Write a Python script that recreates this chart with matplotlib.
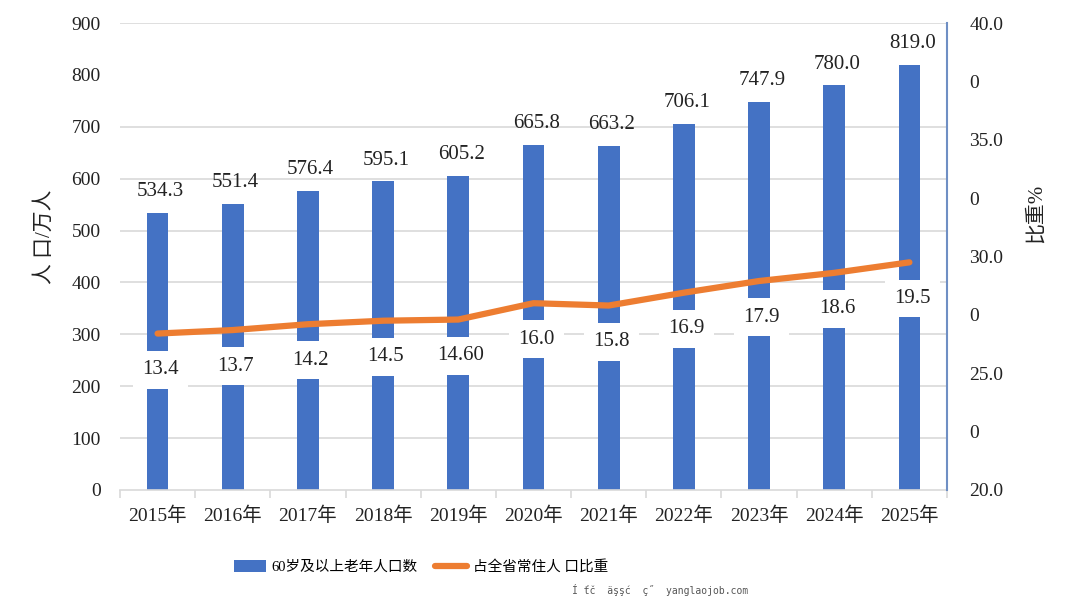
import matplotlib
matplotlib.use("Agg")
import matplotlib.pyplot as plt
from matplotlib.patches import Patch
from matplotlib.lines import Line2D

plt.rcParams['font.family'] = ['Liberation Serif', 'Noto Sans CJK SC', 'DejaVu Sans']

# data
years = ['2015年', '2016年', '2017年', '2018年', '2019年', '2020年',
         '2021年', '2022年', '2023年', '2024年', '2025年']
elderly = [534.3, 551.4, 576.4, 595.1, 605.2, 665.8, 663.2, 706.1, 747.9, 780.0, 819.0]
elderly_labels = ['534.3', '551.4', '576.4', '595.1', '605.2', '665.8',
                  '663.2', '706.1', '747.9', '780.0', '819.0']
share = [13.4, 13.7, 14.2, 14.5, 14.6, 16.0, 15.8, 16.9, 17.9, 18.6, 19.5]
share_labels = ['13.4', '13.7', '14.2', '14.5', '14.60', '16.0',
                '15.8', '16.9', '17.9', '18.6', '19.5']
right_ticks = [0, 5, 10, 15, 20, 25, 30, 35, 40]
right_tick_labels = ['20.0', '0', '25.0', '0', '30.0', '0', '35.0', '0', '40.0']

BLUE = '#4472C4'
ORANGE = '#ED7D31'
GRID = '#d9d9d9'
W, H = 1077, 604

fig = plt.figure(figsize=(W / 100, H / 100), dpi=100)
ax = fig.add_axes([120 / W, 1 - 490 / H, 827 / W, 467 / H])
x = list(range(len(years)))

ax.bar(x, elderly, width=0.29, color=BLUE, zorder=2)
ax.set_xlim(-0.5, len(years) - 0.5)
ax.set_ylim(0, 900)
ax.set_yticks(range(0, 1000, 100))
ax.tick_params(axis='y', length=0, labelsize=14, pad=14, colors='#222222')
for v in [100, 200, 300, 400, 500, 600, 700, 900]:
    ax.axhline(v, color=GRID, lw=1.2, zorder=0)

ax.set_xticks(x)
ax.set_xticklabels(years)
ax.set_xticks([i - 0.5 for i in range(len(years) + 1)], minor=True)
ax.tick_params(axis='x', which='major', length=0, labelsize=14, pad=12, colors='#222222')
ax.tick_params(axis='x', which='minor', length=6, color=GRID, width=1.2)
for s in ['left', 'top', 'right']:
    ax.spines[s].set_visible(False)
ax.spines['bottom'].set_color(GRID)
ax.spines['bottom'].set_linewidth(1.2)

for xi, v, lab in zip(x, elderly, elderly_labels):
    ax.annotate(lab, (xi, v), xytext=(2, 12), textcoords='offset points',
                ha='center', va='baseline', fontsize=15, color='#222222', zorder=5)

ax2 = ax.twinx()
ax2.set_ylim(0, 40)
ax2.plot(x, share, color=ORANGE, lw=4.5, solid_capstyle='round', zorder=4)
ax2.set_yticks(right_ticks)
ax2.set_yticklabels(right_tick_labels)
ax2.tick_params(axis='y', length=0, labelsize=14, pad=16, colors='#222222')
for s in ['left', 'top', 'bottom']:
    ax2.spines[s].set_visible(False)
ax2.spines['right'].set_color('#6f8fc4')
ax2.spines['right'].set_linewidth(1.5)

for xi, v, lab in zip(x, share, share_labels):
    ax2.annotate(lab, (xi, v), xytext=(2, -26), textcoords='offset points',
                 ha='center', va='center', fontsize=15, color='#222222', zorder=3,
                 bbox=dict(boxstyle='square,pad=0.45', fc='white', ec='none'))

# axis titles
fig.text(45 / W, 1 - 237 / H, '人 口/万人', rotation=90, ha='center', va='center',
         fontsize=15, color='#222222')
fig.text(1036 / W, 1 - 213 / H, '比重%', rotation=90, ha='center', va='center',
         fontsize=15, color='#222222')

handles = [Patch(facecolor=BLUE, edgecolor='none'),
           Line2D([0], [0], color=ORANGE, lw=4.5, solid_capstyle='round')]
fig.legend(handles, ['60岁及以上老年人口数', '占全省常住人 口比重'],
           loc='center', bbox_to_anchor=(421 / W, 1 - 567 / H), ncol=2,
           frameon=False, fontsize=10.5, handlelength=2.2, columnspacing=1.2,
           handletextpad=0.4, handleheight=0.9)

fig.text(660 / W, 1 - 590 / H, 'Í ťč  äşşć  ç˝  yanglaojob.com',
         ha='center', va='center', fontsize=7, color='#555555',
         family=['DejaVu Sans Mono', 'DejaVu Sans'])

fig.savefig('out.png', dpi=100)
